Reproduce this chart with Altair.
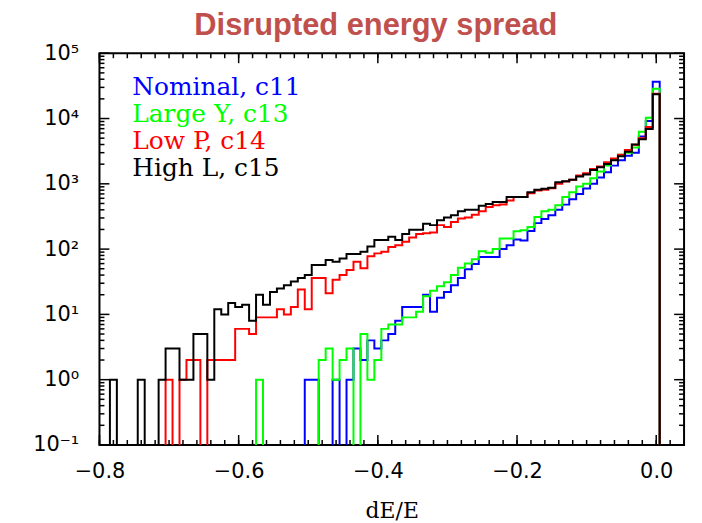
import altair as alt
import pandas as pd

# ---------------- data ----------------
# histogram bins of width 0.01, centred on -0.80 ... 0.00
bin_centers = [round(-0.80 + 0.01 * i, 2) for i in range(81)]

nominal_c11 = [
    0, 0, 0, 0, 0, 0, 0, 0, 0, 0,
    0, 0, 0, 0, 0, 0, 0, 0, 0, 0,
    0, 0, 0, 0, 0, 0, 0, 0, 0, 0,
    1, 1, 0, 0, 1, 0, 1, 3, 2, 4,
    3, 4, 5, 8, 13, 13, 13, 20, 11, 18,
    22, 28, 36, 49, 59, 76, 76, 76, 100, 115,
    140, 135, 190, 250, 290, 330, 400, 480, 580, 700,
    850, 1000, 1250, 1500, 1900, 2300, 2700, 3000, 5300, 9200,
    36500,
]
large_y_c13 = [
    0, 0, 0, 0, 0, 0, 0, 0, 0, 0,
    0, 0, 0, 0, 0, 0, 0, 0, 0, 0,
    0, 0, 0, 1, 0, 0, 0, 0, 0, 0,
    0, 0, 2, 3, 1, 2, 3, 0, 5, 1,
    2, 6, 7, 7, 9, 9, 11, 19, 23, 27,
    31, 40, 52, 60, 70, 93, 88, 100, 145, 145,
    188, 195, 218, 310, 379, 402, 468, 626, 745, 911,
    1000, 1219, 1540, 1900, 2322, 2800, 3000, 3600, 6300, 10300,
    28600,
]
low_p_c14 = [
    0, 0, 0, 0, 0, 0, 0, 0, 0, 0,
    1, 0, 1, 2, 2, 0, 2, 2, 2, 2,
    6, 6, 5, 9, 9, 9, 12, 10, 13, 24,
    12, 36, 36, 21, 34, 40, 48, 64, 51, 78,
    86, 91, 108, 115, 130, 150, 171, 175, 180, 233,
    218, 260, 294, 305, 337, 380, 440, 468, 484, 557,
    626, 626, 720, 790, 811, 858, 1000, 1085, 1150, 1340,
    1452, 1694, 1836, 2134, 2450, 2800, 3300, 3950, 5000, 7400,
    24000,
]
high_l_c15 = [
    0, 0, 1, 0, 0, 0, 1, 0, 0, 1,
    3, 3, 1, 1, 5, 5, 1, 12, 10, 15,
    13, 14, 8, 20, 14, 22, 25, 28, 32, 36,
    40, 57, 57, 68, 64, 72, 84, 84, 91, 110,
    138, 138, 154, 138, 171, 198, 198, 245, 233, 277,
    305, 330, 380, 400, 400, 460, 490, 525, 525, 626,
    626, 626, 745, 811, 840, 870, 1060, 1097, 1150, 1292,
    1387, 1634, 1791, 2018, 2300, 2650, 3100, 4000, 4800, 6900,
    23500,
]

series_names = ["Nominal, c11", "Large Y, c13", "Low P, c14", "High L, c15"]
series_colors = ["#0000ff", "#00ff00", "#ff0000", "#000000"]
series_counts = [nominal_c11, large_y_c13, low_p_c14, high_l_c15]

x_major = [-0.8, -0.6, -0.4, -0.2, 0.0]
x_minor = [round(-0.8 + 0.02 * i, 2) for i in range(43)]
y_major = [0.1, 1, 10, 100, 1000, 10000, 100000]
y_minor = [k * d for d in [0.1, 1, 10, 100, 1000, 10000] for k in range(2, 10)]

# ---------------- tables ----------------
rows = []
for name, vals in zip(series_names, series_counts):
    for c, v in zip(bin_centers, vals):
        rows.append({"series": name, "edge": round(c - 0.005, 3), "count": v})
    rows.append({"series": name, "edge": 0.005, "count": 0})
hist = pd.DataFrame(rows)
legend_df = pd.DataFrame({"label": series_names, "color": series_colors})

W, H = 588, 394
xscale = alt.Scale(domain=[-0.8, 0.04], nice=False, zero=False)
yscale = alt.Scale(type="log", domain=[0.1, 100000], nice=False)

label_expr = (
    "datum.value < 0.5 ? '10\u207b\u00b9' : datum.value < 5 ? '10\u2070' : "
    "datum.value < 50 ? '10\u00b9' : datum.value < 500 ? '10\u00b2' : "
    "datum.value < 5000 ? '10\u00b3' : datum.value < 50000 ? '10\u2074' : '10\u2075'"
)

xaxis = alt.Axis(values=x_major, format=".1f", title="dE/E", domain=False, ticks=False,
                 grid=False, labelFont="DejaVu Sans", labelFontSize=21, labelColor="black",
                 labelPadding=16, labelFlush=False, titleFont="DejaVu Serif", titleFontSize=22,
                 titleFontWeight="normal", titleColor="black", titlePadding=19)
yaxis = alt.Axis(values=y_major, labelExpr=label_expr, title=None, domain=False, ticks=False,
                 grid=False, labelFont="DejaVu Sans", labelFontSize=21, labelColor="black",
                 labelPadding=21, labelFlush=False)

layers = []
for name, color in zip(series_names, series_colors):
    layers.append(
        alt.Chart(hist)
        .transform_filter(alt.datum.series == name)
        .transform_calculate(plotted="max(datum.count, 0.05)")
        .mark_line(interpolate="step-after", color=color, strokeWidth=2, clip=True)
        .encode(x=alt.X("edge:Q", scale=xscale, axis=xaxis),
                y=alt.Y("plotted:Q", scale=yscale, axis=yaxis))
    )

def xticks(values, length):
    df = pd.DataFrame({"t": values})
    base = alt.Chart(df).mark_rule(color="black", strokeWidth=1.5)
    bottom = base.encode(x=alt.X("t:Q", scale=xscale, axis=xaxis),
                         y=alt.value(H), y2=alt.value(H - length))
    top = base.encode(x=alt.X("t:Q", scale=xscale, axis=xaxis),
                      y=alt.value(0), y2=alt.value(length))
    return [bottom, top]

def yticks(values, length):
    df = pd.DataFrame({"t": values})
    base = alt.Chart(df).mark_rule(color="black", strokeWidth=1.5)
    left = base.encode(y=alt.Y("t:Q", scale=yscale, axis=yaxis),
                       x=alt.value(0), x2=alt.value(length))
    right = base.encode(y=alt.Y("t:Q", scale=yscale, axis=yaxis),
                        x=alt.value(W), x2=alt.value(W - length))
    return [left, right]

tick_layers = (xticks(x_minor, 5) + xticks(x_major, 10)
               + yticks(y_minor, 5) + yticks(y_major, 10))

legend_layers = []
for i, (name, color) in enumerate(zip(series_names, series_colors)):
    legend_layers.append(
        alt.Chart(legend_df)
        .transform_filter(alt.datum.label == name)
        .mark_text(align="left", baseline="alphabetic", font="DejaVu Serif",
                   fontSize=25, color=color)
        .encode(text="label:N", x=alt.value(33), y=alt.value(41.5 + 27.3 * i))
    )

chart = (
    alt.layer(*layers, *tick_layers, *legend_layers)
    .properties(
        width=W, height=H,
        padding={"left": 92, "top": 44, "right": 10, "bottom": 80},
        autosize=alt.AutoSizeParams(type="none"),
        title=alt.Title("Disrupted energy spread", font="Liberation Sans", fontSize=31,
                        fontWeight="bold", color="#C0504D", offset=0, dx=-16,
                        anchor="middle"),
    )
    .configure_view(stroke="black", strokeWidth=2)
)

chart.save("out.html", embed_options={"renderer": "svg", "actions": False})
